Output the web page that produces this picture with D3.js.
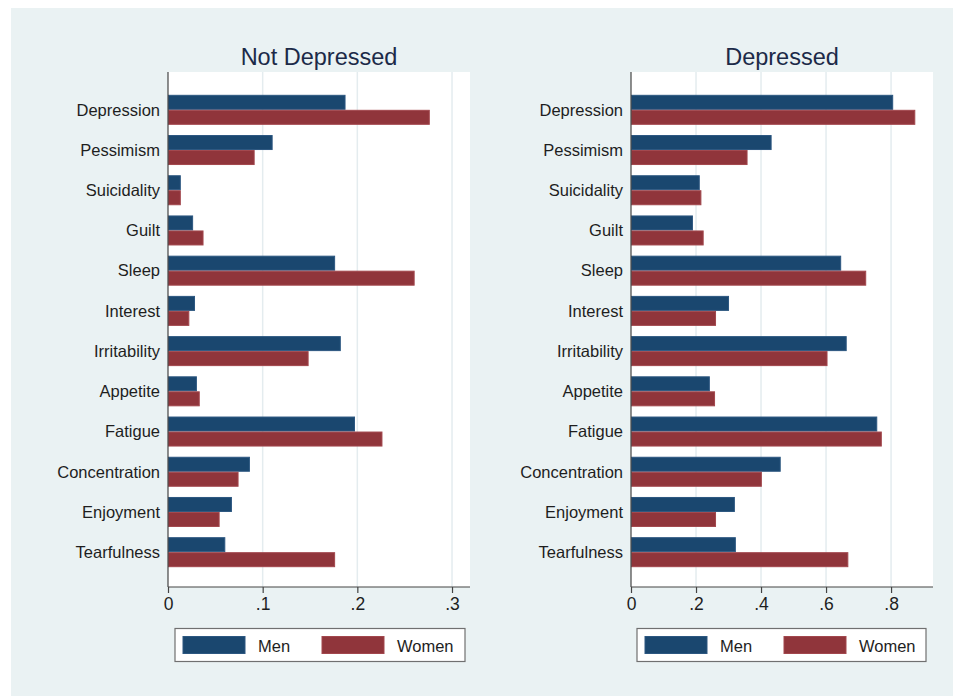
<!DOCTYPE html>
<html>
<head>
<meta charset="utf-8">
<script src="https://cdn.jsdelivr.net/npm/d3@7"></script>
<style>
  html, body { margin: 0; padding: 0; background: #ffffff; }
  svg { display: block; font-family: "Liberation Sans", Arial, Helvetica, sans-serif; }
</style>
</head>
<body>
<svg id="chart" width="953" height="696"></svg>
<script>
// Symptom categories, top to bottom
const categories = ["Depression", "Pessimism", "Suicidality", "Guilt", "Sleep", "Interest",
  "Irritability", "Appetite", "Fatigue", "Concentration", "Enjoyment", "Tearfulness"];

// Proportion reporting each symptom: not depressed group
const notDepressedMen   = [0.187, 0.110, 0.013, 0.026, 0.176, 0.028, 0.182, 0.030, 0.197, 0.086, 0.067, 0.060];
const notDepressedWomen = [0.276, 0.091, 0.013, 0.037, 0.260, 0.022, 0.148, 0.033, 0.226, 0.074, 0.054, 0.176];

// Proportion reporting each symptom: depressed group
const depressedMen   = [0.805, 0.431, 0.210, 0.189, 0.645, 0.300, 0.662, 0.241, 0.756, 0.459, 0.318, 0.321];
const depressedWomen = [0.873, 0.357, 0.215, 0.222, 0.722, 0.260, 0.603, 0.257, 0.770, 0.401, 0.260, 0.667];

const series = ["Men", "Women"];
const leftTicks  = [0, 0.1, 0.2, 0.3];
const rightTicks = [0, 0.2, 0.4, 0.6, 0.8];

const colors = { Men: "#1a476f", Women: "#90353b" };
const outline = { Men: "#2c5780", Women: "#a2474d" };

const svg = d3.select("#chart");

// outer graph region
svg.append("rect").attr("x", 0).attr("y", 0).attr("width", 953).attr("height", 696).attr("fill", "#ffffff");
svg.append("rect").attr("x", 11).attr("y", 8).attr("width", 942).attr("height", 688).attr("fill", "#eaf2f3");

const fmt = v => v === 0 ? "0" : d3.format(".1f")(v).replace(/^0/, "");

const panels = [
  { title: "Not Depressed", men: notDepressedMen, women: notDepressedWomen, ticks: leftTicks,
    x0: 168, x1: 470, max: 0.319, labelX: 160, legend: [175, 465] },
  { title: "Depressed", men: depressedMen, women: depressedWomen, ticks: rightTicks,
    x0: 631, x1: 933, max: 0.929, labelX: 623, legend: [637, 926] }
];

const plotTop = 72, plotBottom = 587;

panels.forEach(p => {
  const g = svg.append("g");
  const x = d3.scaleLinear().domain([0, p.max]).range([p.x0, p.x1]);
  const y = d3.scaleBand().domain(categories).range([plotTop + 1.5, plotBottom + 1.5])
    .paddingInner(0.254).paddingOuter(0.53);
  const sub = d3.scaleBand().domain(series).range([0, y.bandwidth()]);

  // plot region
  g.append("rect").attr("x", p.x0).attr("y", plotTop).attr("width", p.x1 - p.x0)
    .attr("height", plotBottom - plotTop).attr("fill", "#ffffff");

  // gridlines
  g.selectAll(".grid").data(p.ticks.filter(t => t > 0)).join("line")
    .attr("x1", d => x(d)).attr("x2", d => x(d))
    .attr("y1", plotTop).attr("y2", plotBottom)
    .attr("stroke", "#e4ecef").attr("stroke-width", 1.5);

  // title
  g.append("text").attr("x", (p.x0 + p.x1) / 2).attr("y", 65)
    .attr("text-anchor", "middle").attr("font-size", 23.5).attr("fill", "#1c2a48")
    .text(p.title);

  // bars
  const rows = categories.map((c, i) => ({ c, Men: p.men[i], Women: p.women[i] }));
  const rowG = g.selectAll(".row").data(rows).join("g")
    .attr("transform", d => `translate(0,${y(d.c)})`);
  rowG.selectAll("rect").data(d => series.map(s => ({ s, v: d[s] }))).join("rect")
    .attr("x", x(0) + 0.5)
    .attr("y", d => sub(d.s) + 0.5)
    .attr("width", d => Math.max(0, x(d.v) - x(0) - 0.5))
    .attr("height", sub.bandwidth() - 1)
    .attr("fill", d => colors[d.s])
    .attr("stroke", d => outline[d.s]).attr("stroke-width", 1);

  // category labels
  g.selectAll(".cat").data(categories).join("text")
    .attr("x", p.labelX).attr("y", d => y(d) + y.bandwidth() / 2)
    .attr("dy", "0.35em").attr("text-anchor", "end")
    .attr("font-size", 16.5).attr("fill", "#1e1e1e")
    .text(d => d);

  // axes
  const yAxis = g.append("g").attr("transform", `translate(${p.x0},0)`)
    .call(d3.axisLeft(y).tickSize(0).tickFormat(""));
  yAxis.select(".domain").attr("d", `M0,${plotTop}V${plotBottom}`).attr("stroke", "#444").attr("stroke-width", 1.2);

  const xAxis = g.append("g").attr("transform", `translate(0,${plotBottom})`)
    .call(d3.axisBottom(x).tickValues(p.ticks).tickSize(6).tickPadding(5).tickFormat(fmt));
  xAxis.select(".domain").attr("d", `M${p.x0},0H${p.x1}`).attr("stroke", "#444").attr("stroke-width", 1.2);
  xAxis.selectAll(".tick line").attr("stroke", "#444").attr("stroke-width", 1.2);
  xAxis.selectAll(".tick text").attr("font-size", 17.5).attr("fill", "#1e1e1e")
    .attr("font-family", "\"Liberation Sans\", Arial, sans-serif");

  // legend
  const [lx0, lx1] = p.legend;
  const lg = g.append("g");
  lg.append("rect").attr("x", lx0).attr("y", 628.5).attr("width", lx1 - lx0).attr("height", 33)
    .attr("fill", "#ffffff").attr("stroke", "#707070").attr("stroke-width", 1.2);
  const items = [
    { s: "Men", sx: lx0 + 8, tx: lx0 + 83 },
    { s: "Women", sx: lx0 + 147, tx: lx0 + 222 }
  ];
  items.forEach(it => {
    lg.append("rect").attr("x", it.sx).attr("y", 636.5).attr("width", 62).attr("height", 17)
      .attr("fill", colors[it.s]).attr("stroke", outline[it.s]).attr("stroke-width", 1);
    lg.append("text").attr("x", it.tx).attr("y", 651.5).attr("font-size", 16.5).attr("fill", "#1e1e1e")
      .text(it.s);
  });
});
</script>
</body>
</html>
